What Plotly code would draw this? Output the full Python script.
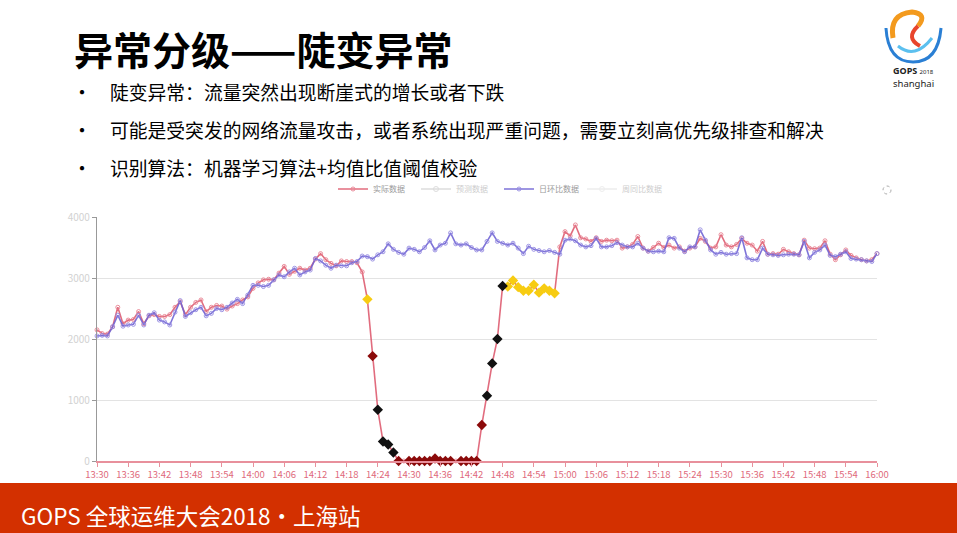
import plotly.graph_objects as go

# ---------------- data ----------------
tick_labels = ["13:30", "13:36", "13:42", "13:48", "13:54", "14:00", "14:06", "14:12", "14:18",
               "14:24", "14:30", "14:36", "14:42", "14:48", "14:54", "15:00", "15:06", "15:12",
               "15:18", "15:24", "15:30", "15:36", "15:42", "15:48", "15:54", "16:00"]

actual = [2.15, 2.09, 2.08, 2.20, 2.52, 2.25, 2.31, 2.32, 2.45, 2.25,
          2.38, 2.40, 2.37, 2.37, 2.40, 2.52, 2.61, 2.40, 2.52, 2.60,
          2.64, 2.45, 2.52, 2.55, 2.54, 2.49, 2.54, 2.58, 2.64, 2.69,
          2.83, 2.92, 2.97, 2.98, 2.97, 3.08, 3.19, 3.06, 3.11, 3.16,
          3.13, 3.16, 3.31, 3.40, 3.30, 3.24, 3.20, 3.28, 3.27, 3.27,
          3.25, 3.10, 2.65, 1.72, 0.84, 0.32, 0.27, 0.14, 0.00, 0.00,
          0.00, 0.00, 0.00, 0.00, 0.00, 0.04, 0.00, 0.00, 0.00, 0.00,
          0.00, 0.00, 0.00, 0.00, 0.59, 1.07, 1.60, 2.00, 2.87, 2.86,
          2.96, 2.85, 2.79, 2.79, 2.89, 2.76, 2.83, 2.79, 2.75, 3.51,
          3.76, 3.69, 3.87, 3.66, 3.64, 3.60, 3.66, 3.60, 3.62, 3.61,
          3.62, 3.49, 3.51, 3.55, 3.68, 3.49, 3.44, 3.50, 3.57, 3.50,
          3.54, 3.49, 3.51, 3.44, 3.49, 3.51, 3.65, 3.60, 3.49, 3.51,
          3.71, 3.54, 3.51, 3.55, 3.65, 3.57, 3.54, 3.44, 3.60, 3.39,
          3.40, 3.39, 3.47, 3.43, 3.40, 3.38, 3.62, 3.49, 3.48, 3.49,
          3.61, 3.39, 3.30, 3.38, 3.46, 3.37, 3.33, 3.30, 3.28, 3.30,
          3.40]

day_ratio = [2.05, 2.06, 2.05, 2.20, 2.39, 2.21, 2.23, 2.24, 2.39, 2.23,
             2.39, 2.43, 2.31, 2.28, 2.23, 2.44, 2.63, 2.37, 2.43, 2.48,
             2.52, 2.38, 2.42, 2.50, 2.48, 2.52, 2.59, 2.65, 2.58, 2.72,
             2.88, 2.88, 2.86, 2.88, 2.97, 3.05, 3.02, 3.10, 3.16, 3.05,
             3.10, 3.13, 3.32, 3.28, 3.21, 3.16, 3.21, 3.20, 3.20, 3.25,
             3.27, 3.36, 3.35, 3.31, 3.38, 3.43, 3.56, 3.47, 3.42, 3.39,
             3.49, 3.47, 3.43, 3.50, 3.61, 3.46, 3.54, 3.57, 3.74, 3.56,
             3.54, 3.56, 3.50, 3.46, 3.46, 3.60, 3.74, 3.60, 3.57, 3.54,
             3.57, 3.49, 3.40, 3.52, 3.47, 3.45, 3.43, 3.45, 3.42, 3.39,
             3.62, 3.64, 3.61, 3.54, 3.51, 3.53, 3.65, 3.51, 3.51, 3.53,
             3.58, 3.54, 3.51, 3.51, 3.57, 3.49, 3.44, 3.43, 3.44, 3.43,
             3.66, 3.65, 3.49, 3.43, 3.51, 3.51, 3.79, 3.62, 3.46, 3.39,
             3.42, 3.39, 3.40, 3.40, 3.66, 3.33, 3.30, 3.30, 3.49, 3.39,
             3.38, 3.37, 3.38, 3.39, 3.39, 3.38, 3.60, 3.33, 3.42, 3.46,
             3.54, 3.37, 3.35, 3.39, 3.43, 3.32, 3.31, 3.30, 3.28, 3.27,
             3.40]

minutes = list(range(len(actual)))

# anomaly levels (indices into the series)
yellow_idx = [52, 79, 80, 81, 82, 83, 84, 85, 86, 87, 88]
black_idx = [54, 55, 56, 57, 75, 76, 77, 78]
darkred_idx = [53, 58, 60, 61, 62, 63, 64, 65, 66, 67, 68, 70, 71, 72, 73, 74]

y_tick_vals = [0, 1, 2, 3, 4]
y_tick_text = ["0", "1000", "2000", "3000", "4000"]

legend_names = ["实际数据", "预测数据", "日环比数据", "周同比数据"]

title_text = "异常分级——陡变异常"
bullets = ["陡变异常：流量突然出现断崖式的增长或者下跌",
           "可能是受突发的网络流量攻击，或者系统出现严重问题，需要立刻高优先级排查和解决",
           "识别算法：机器学习算法+均值比值阈值校验"]
footer_text = "GOPS 全球运维大会2018·上海站"

# ---------------- layout helpers ----------------
W, H = 957, 533
L, R, T, B = 97, 877, 217, 461


def px(x):
    return (x - L) / (R - L)


def py(y):
    return (B - y) / (B - T)


FONT = "Noto Sans CJK SC, Noto Sans, sans-serif"
RED = "rgba(222,92,112,0.9)"
PURPLE = "rgba(112,100,212,0.9)"

fig = go.Figure()

fig.add_trace(go.Scatter(
    x=minutes, y=actual, name=legend_names[0], mode="lines+markers",
    line=dict(color=RED, width=1.6),
    marker=dict(symbol="circle-open", size=4, color="rgba(232,130,145,0.9)", line=dict(width=1)),
    cliponaxis=False))
fig.add_trace(go.Scatter(
    x=minutes, y=actual, name=legend_names[1], mode="lines+markers",
    line=dict(color="#bbbbbb", width=1.5), marker=dict(symbol="circle-open", size=5),
    visible="legendonly"))
fig.add_trace(go.Scatter(
    x=minutes, y=day_ratio, name=legend_names[2], mode="lines+markers",
    line=dict(color=PURPLE, width=1.6),
    marker=dict(symbol="circle-open", size=4, color="rgba(150,140,225,0.9)", line=dict(width=1)),
    cliponaxis=False))
fig.add_trace(go.Scatter(
    x=minutes, y=day_ratio, name=legend_names[3], mode="lines+markers",
    line=dict(color="#dddddd", width=1.5), marker=dict(symbol="circle-open", size=5),
    visible="legendonly"))

for idx, col in [(yellow_idx, "#f7cc12"), (black_idx, "#111111"), (darkred_idx, "#8b0a0a")]:
    fig.add_trace(go.Scatter(
        x=[minutes[i] for i in idx], y=[actual[i] for i in idx], mode="markers",
        marker=dict(symbol="diamond", size=8, color=col, line=dict(width=0)),
        showlegend=False, cliponaxis=False, hoverinfo="skip"))

annotations = []
annotations.append(dict(x=px(72), y=py(48), xref="paper", yref="paper", text="<b>" + title_text + "</b>",
                        showarrow=False, xanchor="left", yanchor="middle",
                        font=dict(family=FONT, size=39, color="#000000", weight=900)))
for yy, txt in zip([91, 129, 167], bullets):
    annotations.append(dict(x=px(70), y=py(yy), xref="paper", yref="paper", text="•",
                            showarrow=False, xanchor="left", yanchor="middle",
                            font=dict(family=FONT, size=20, color="#000000")))
    annotations.append(dict(x=px(108), y=py(yy), xref="paper", yref="paper", text=txt,
                            showarrow=False, xanchor="left", yanchor="middle",
                            font=dict(family=FONT, size=18.8, color="#000000")))
annotations.append(dict(x=px(19), y=py(515), xref="paper", yref="paper", text=footer_text,
                        showarrow=False, xanchor="left", yanchor="middle",
                        font=dict(family=FONT, size=22.5, color="#ffffff")))
# logo text
annotations.append(dict(x=px(913), y=py(70), xref="paper", yref="paper",
                        text="<b>GOPS</b> <span style='font-size:6px'>2018</span>",
                        showarrow=False, xanchor="center", yanchor="middle",
                        font=dict(family="Noto Sans, sans-serif", size=9, color="#222222")))
annotations.append(dict(x=px(913), y=py(83), xref="paper", yref="paper", text="shanghai",
                        showarrow=False, xanchor="center", yanchor="middle",
                        font=dict(family="Noto Sans, sans-serif", size=9.5, color="#222222")))


def path(points):
    s = "M {:.4f},{:.4f}".format(px(points[0][0]), py(points[0][1]))
    for i in range(1, len(points), 2):
        s += " Q {:.4f},{:.4f} {:.4f},{:.4f}".format(px(points[i][0]), py(points[i][1]),
                                                     px(points[i + 1][0]), py(points[i + 1][1]))
    return s


shapes = [
    dict(type="rect", xref="paper", yref="paper", x0=px(0), x1=px(W), y0=py(H), y1=py(483),
         fillcolor="#d33000", line=dict(width=0), layer="below"),
    # logo swirls
    dict(type="path", xref="paper", yref="paper",
         path=path([(886, 28), (888, 62), (913, 62), (938, 62), (941, 28)]),
         line=dict(color="#2a7fd4", width=3)),
    dict(type="path", xref="paper", yref="paper",
         path=path([(898, 46), (915, 60), (932, 38)]),
         line=dict(color="#5cc0ef", width=3)),
    dict(type="path", xref="paper", yref="paper",
         path=path([(893, 38), (889, 14), (912, 12), (928, 14), (918, 26)]),
         line=dict(color="#f39a1e", width=5)),
    dict(type="path", xref="paper", yref="paper",
         path=path([(918, 26), (905, 38), (920, 46)]),
         line=dict(color="#e8452c", width=4)),
    # toolbox restore icon (small)
    dict(type="circle", xref="paper", yref="paper", x0=px(883), x1=px(891), y0=py(194), y1=py(186),
         line=dict(color="#aaaaaa", width=1, dash="dot")),
]

fig.update_layout(
    width=W, height=H,
    margin=dict(l=L, r=W - R, t=T, b=H - B),
    paper_bgcolor="#ffffff", plot_bgcolor="#ffffff",
    font=dict(family=FONT),
    showlegend=True,
    legend=dict(orientation="h", x=px(333), y=py(189), xanchor="left", yanchor="middle",
                font=dict(size=8, color="#9a9a9a"), bgcolor="rgba(0,0,0,0)",
                itemwidth=30, entrywidth=38, entrywidthmode="pixels", tracegroupgap=0),
    xaxis=dict(range=[0, 150], tickvals=list(range(0, 151, 6)), ticktext=tick_labels,
               tickfont=dict(size=9.5, color="#e06a7c"), showline=True, linecolor="#e8909c",
               linewidth=1.5, ticks="outside", tickcolor="#e8909c", ticklen=4,
               showgrid=False, zeroline=False, fixedrange=True),
    yaxis=dict(range=[0, 4], tickvals=y_tick_vals, ticktext=y_tick_text,
               tickfont=dict(size=10, color="#d2d2d2"), showline=True, linecolor="#999999",
               linewidth=1.2, ticks="outside", tickcolor="#999999", ticklen=4,
               showgrid=True, gridcolor="#e3e3e3", gridwidth=1, zeroline=False, fixedrange=True),
    annotations=annotations,
    shapes=shapes,
)

fig.write_html("out.html", config={"displayModeBar": False},
               post_script="document.body.style.margin='0px';")
